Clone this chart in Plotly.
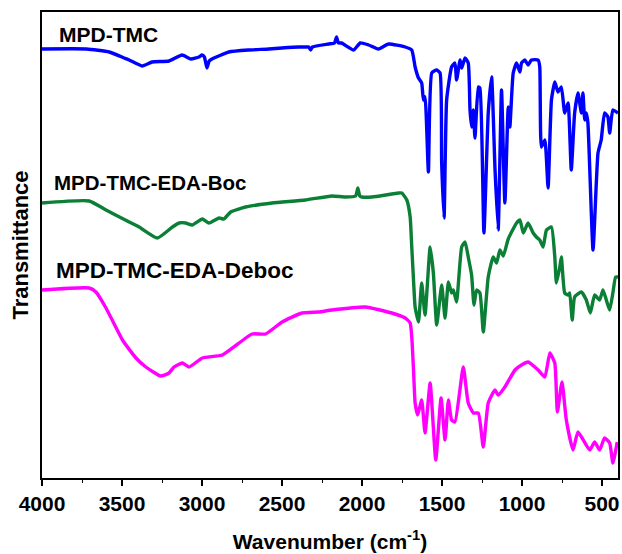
import plotly.graph_objects as go

# ---- MPD-TMC (blue) ----
tmc_wn = [4000, 3723, 3580, 3486, 3455, 3374, 3312, 3206, 3125, 3069, 3019, 3000, 2985, 2969, 2955, 2938,
          2832, 2707, 2582, 2501, 2395, 2340, 2333, 2321, 2310, 2209, 2172, 2159, 2148, 2128, 2052, 2011, 1959, 1897, 1834,
          1730, 1689, 1668, 1647, 1627, 1616, 1606, 1585, 1564, 1533, 1512, 1502, 1487, 1471,
          1440, 1419, 1409, 1387, 1377, 1356, 1336, 1325, 1315, 1304, 1294, 1273, 1263, 1238,
          1211, 1190, 1169, 1149, 1128, 1107, 1086, 1076, 1055, 1034, 1013, 1003, 982, 962, 941,
          899, 889, 879, 857, 837, 816, 795, 775, 754, 733, 712, 692, 671, 650, 629, 619, 608,
          598, 588, 556, 525, 505, 484, 463, 452, 432, 400]
tmc_t = [429, 429, 426, 420, 418, 412, 416, 417, 423, 419, 421, 423, 421, 410, 417, 419,
         426, 428, 429, 430, 431, 431, 431, 428, 431, 434, 435, 441, 435, 435, 428, 435, 433, 429, 434,
         431, 428, 411, 400, 395, 378, 381, 306, 405, 408, 405, 315, 260, 378,
         411, 415, 398, 418, 410, 420, 415, 368, 351, 368, 340, 391, 390, 245,
         365, 401, 310, 248, 388, 275, 371, 351, 405, 415, 406, 415, 418, 413, 418,
         418, 411, 331, 338, 290, 378, 396, 386, 391, 365, 375, 308, 365, 385, 365, 385, 358,
         365, 355, 228, 325, 338, 365, 361, 345, 368, 365]

# ---- MPD-TMC-EDA-Boc (green) ----
boc_wn = [4000, 3705, 3600, 3455, 3393, 3279, 3185, 3143, 3102, 3061, 2998, 2956, 2894, 2863,
          2821, 2728, 2562, 2354, 2188, 2104, 2040, 2026, 2014, 2001, 1938, 1772, 1751, 1720, 1699, 1689,
          1678, 1668, 1647, 1627, 1606, 1574, 1554, 1533, 1502, 1481, 1460, 1440, 1429, 1409,
          1377, 1356, 1336, 1315, 1300, 1284, 1263, 1242, 1211, 1180, 1159, 1138, 1117, 1086,
          1034, 1013, 992, 962, 930, 910, 889, 868, 847, 816, 795, 785, 764, 754, 733, 712,
          702, 686, 671, 629, 598, 573, 546, 515, 494, 473, 452, 432, 415, 400]
boc_t = [275, 277, 268, 256, 251, 240, 251, 255, 255, 253, 259, 255, 260, 259,
         266, 271, 275, 278, 282, 281, 282, 290, 282, 281, 281, 285, 285, 278, 261, 231,
         198, 171, 156, 195, 163, 231, 205, 153, 193, 160, 196, 185, 188, 176,
         231, 236, 221, 203, 173, 188, 185, 146, 201, 221, 215, 228, 222, 239,
         255, 258, 245, 255, 245, 241, 238, 231, 248, 251, 221, 195, 211, 221, 185, 183,
         185, 158, 181, 186, 178, 165, 183, 178, 188, 178, 168, 185, 201, 201]

# ---- MPD-TMC-EDA-Deboc (magenta) ----
deb_wn = [4000, 3705, 3663, 3600, 3497, 3413, 3351, 3258, 3206, 3175, 3123, 3081, 2998, 2873,
          2687, 2603, 2499, 2375, 2271, 2188, 1980, 1814, 1730, 1699, 1689, 1678, 1668, 1652,
          1627, 1606, 1574, 1539, 1506, 1481, 1460, 1440, 1419, 1367, 1336, 1304, 1273, 1242,
          1211, 1169, 1149, 1107, 1044, 1003, 962, 899, 857, 826, 795, 779, 750, 723, 681,
          650, 577, 546, 515, 484, 452, 432, 405]
deb_t = [188, 190, 186, 170, 138, 120, 111, 102, 105, 111, 115, 111, 120, 123,
         144, 144, 156, 165, 166, 168, 171, 165, 160, 155, 141, 108, 75, 63,
         78, 45, 95, 18, 80, 38, 78, 58, 56, 111, 75, 65, 65, 31,
         75, 88, 83, 91, 108, 113, 116, 108, 101, 125, 115, 66, 96, 58, 28,
         46, 28, 36, 28, 40, 35, 15, 36]

labels = ["MPD-TMC", "MPD-TMC-EDA-Boc", "MPD-TMC-EDA-Deboc"]
colors = ["#0000FF", "#0B7F35", "#FF00FF"]
x_ticks = [4000, 3500, 3000, 2500, 2000, 1500, 1000, 500]

FONT = "Liberation Sans, Arial, sans-serif"

fig = go.Figure()
for wn, t, name, col in [(tmc_wn, tmc_t, labels[0], colors[0]),
                         (boc_wn, boc_t, labels[1], colors[1]),
                         (deb_wn, deb_t, labels[2], colors[2])]:
    fig.add_trace(go.Scatter(x=wn, y=t, mode="lines", name=name,
                             line=dict(color=col, width=3.4, shape="spline", smoothing=0.45),
                             showlegend=False))

ann = [(labels[0], 3904, 444, 21), (labels[1], 3935, 296, 20.5), (labels[2], 3923, 208, 22.5)]
for txt, ax_, ay_, fs in ann:
    fig.add_annotation(x=ax_, y=ay_, xref="x", yref="y", text="<b>%s</b>" % txt,
                       showarrow=False, xanchor="left", yanchor="middle",
                       font=dict(family=FONT, size=fs, color="black"))

fig.update_layout(
    width=622, height=554,
    margin=dict(l=42, r=2, t=12, b=76),
    plot_bgcolor="white", paper_bgcolor="white",
    font=dict(family=FONT, color="black"),
)
fig.update_xaxes(
    range=[4000, 400], tickvals=x_ticks,
    ticktext=["<b>%d</b>" % v for v in x_ticks],
    tickfont=dict(size=21, family=FONT, color="black"),
    ticks="outside", ticklen=6, tickwidth=1.5, tickcolor="black",
    minor=dict(dtick=250, ticks="outside", ticklen=3, tickwidth=1.2, tickcolor="black"),
    showline=True, linecolor="black", linewidth=1.5, mirror=True,
    showgrid=False, zeroline=False,
    title=dict(text="<b>Wavenumber (cm<sup>-1</sup>)</b>", font=dict(size=21, family=FONT), standoff=20),
)
fig.update_yaxes(
    range=[0, 466], showticklabels=False, ticks="",
    showline=True, linecolor="black", linewidth=1.5, mirror=True,
    showgrid=False, zeroline=False,
    title=dict(text="<b>Transmittance</b>", font=dict(size=22, family=FONT), standoff=6),
)

fig.write_html("out.html")
